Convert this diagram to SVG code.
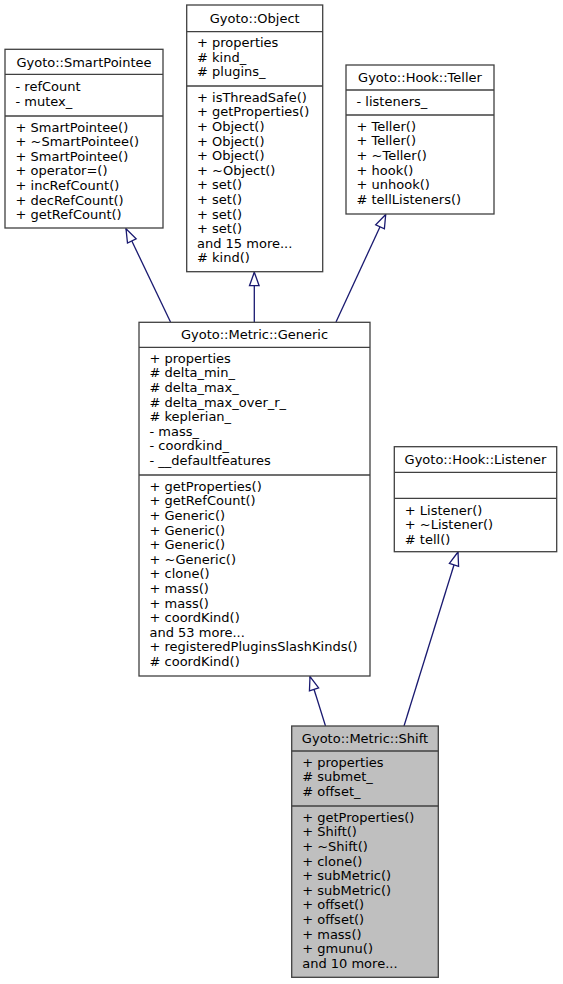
<svg xmlns="http://www.w3.org/2000/svg" width="563" height="984" viewBox="0 0 563 984">
<style>
text{font-family:"DejaVu Sans","Liberation Sans",sans-serif;font-size:13px;fill:#000}
.t{text-anchor:middle}
.box{fill:#fff;stroke:#404040;stroke-width:1.3}
.root{fill:#bfbfbf;stroke:#404040;stroke-width:1.3}
.sep{stroke:#404040;stroke-width:1.3}
.edge{fill:none;stroke:#191970;stroke-width:1.3;marker-end:url(#inh)}
</style>
<defs>
<marker id="inh" markerUnits="userSpaceOnUse" markerWidth="30" markerHeight="30" refX="0" refY="0" orient="auto" overflow="visible">
<path d="M0,0 L-13.5,-4.8 L-13.5,4.8 Z" fill="#fff" stroke="#191970" stroke-width="1.3"/>
</marker>
</defs>
<rect width="563" height="984" fill="#fff"/>
<g id="edges">
<path class="edge" d="M170.5,322 L126,228.8"/>
<path class="edge" d="M254.3,322 L254.3,272.2"/>
<path class="edge" d="M336,322 L385.7,214.5"/>
<path class="edge" d="M325.5,726 L310,676.5"/>
<path class="edge" d="M404,726 L458,552"/>
</g>
<g id="SmartPointee">
<rect class="box" x="5" y="49.3" width="158" height="178.7"/>
<line class="sep" x1="5" y1="74.3" x2="163" y2="74.3"/>
<line class="sep" x1="5" y1="116" x2="163" y2="116"/>
<text class="t" x="84" y="66.5">Gyoto::SmartPointee</text>
<text x="15.5" y="91.3">- refCount</text>
<text x="15.5" y="105.9">- mutex_</text>
<text x="15.5" y="131.5">+ SmartPointee()</text>
<text x="15.5" y="146.1">+ ~SmartPointee()</text>
<text x="15.5" y="160.7">+ SmartPointee()</text>
<text x="15.5" y="175.3">+ operator=()</text>
<text x="15.5" y="189.9">+ incRefCount()</text>
<text x="15.5" y="204.5">+ decRefCount()</text>
<text x="15.5" y="219.1">+ getRefCount()</text>
</g>
<g id="Object">
<rect class="box" x="186.7" y="5" width="136" height="266.7"/>
<line class="sep" x1="186.7" y1="31.7" x2="322.7" y2="31.7"/>
<line class="sep" x1="186.7" y1="86" x2="322.7" y2="86"/>
<text class="t" x="254.7" y="22.5">Gyoto::Object</text>
<text x="197" y="47.2">+ properties</text>
<text x="197" y="61.8">#  kind_</text>
<text x="197" y="76.4">#  plugins_</text>
<text x="197" y="101.7">+ isThreadSafe()</text>
<text x="197" y="116.3">+ getProperties()</text>
<text x="197" y="130.9">+ Object()</text>
<text x="197" y="145.5">+ Object()</text>
<text x="197" y="160.1">+ Object()</text>
<text x="197" y="174.7">+ ~Object()</text>
<text x="197" y="189.3">+ set()</text>
<text x="197" y="203.9">+ set()</text>
<text x="197" y="218.5">+ set()</text>
<text x="197" y="233.1">+ set()</text>
<text x="197" y="247.7">and 15 more...</text>
<text x="197" y="262.3">#  kind()</text>
</g>
<g id="Teller">
<rect class="box" x="346" y="65" width="148" height="149"/>
<line class="sep" x1="346" y1="90" x2="494" y2="90"/>
<line class="sep" x1="346" y1="115" x2="494" y2="115"/>
<text class="t" x="420" y="82">Gyoto::Hook::Teller</text>
<text x="356.5" y="106">- listeners_</text>
<text x="356.5" y="130.7">+ Teller()</text>
<text x="356.5" y="145.3">+ Teller()</text>
<text x="356.5" y="159.9">+ ~Teller()</text>
<text x="356.5" y="174.5">+ hook()</text>
<text x="356.5" y="189.1">+ unhook()</text>
<text x="356.5" y="203.7">#  tellListeners()</text>
</g>
<g id="Generic">
<rect class="box" x="139" y="322.3" width="231" height="353.7"/>
<line class="sep" x1="139" y1="347.3" x2="370" y2="347.3"/>
<line class="sep" x1="139" y1="475" x2="370" y2="475"/>
<text class="t" x="254.5" y="339.3">Gyoto::Metric::Generic</text>
<text x="149.5" y="362.8">+ properties</text>
<text x="149.5" y="377.4">#  delta_min_</text>
<text x="149.5" y="392">#  delta_max_</text>
<text x="149.5" y="406.6">#  delta_max_over_r_</text>
<text x="149.5" y="421.2">#  keplerian_</text>
<text x="149.5" y="435.8">- mass_</text>
<text x="149.5" y="450.4">- coordkind_</text>
<text x="149.5" y="465">- __defaultfeatures</text>
<text x="149.5" y="490.7">+ getProperties()</text>
<text x="149.5" y="505.3">+ getRefCount()</text>
<text x="149.5" y="519.9">+ Generic()</text>
<text x="149.5" y="534.5">+ Generic()</text>
<text x="149.5" y="549.1">+ Generic()</text>
<text x="149.5" y="563.7">+ ~Generic()</text>
<text x="149.5" y="578.3">+ clone()</text>
<text x="149.5" y="592.9">+ mass()</text>
<text x="149.5" y="607.5">+ mass()</text>
<text x="149.5" y="622.1">+ coordKind()</text>
<text x="149.5" y="636.7">and 53 more...</text>
<text x="149.5" y="651.3">+ registeredPluginsSlashKinds()</text>
<text x="149.5" y="665.9">#  coordKind()</text>
</g>
<g id="Listener">
<rect class="box" x="394.3" y="446.7" width="162.4" height="105"/>
<line class="sep" x1="394.3" y1="472.3" x2="556.7" y2="472.3"/>
<line class="sep" x1="394.3" y1="498.3" x2="556.7" y2="498.3"/>
<text class="t" x="475.5" y="464">Gyoto::Hook::Listener</text>
<text x="404.8" y="514.5">+ Listener()</text>
<text x="404.8" y="529.2">+ ~Listener()</text>
<text x="404.8" y="543.9">#  tell()</text>
</g>
<g id="Shift">
<rect class="root" x="291.7" y="726" width="146.6" height="251.3"/>
<line class="sep" x1="291.7" y1="751" x2="438.3" y2="751"/>
<line class="sep" x1="291.7" y1="806" x2="438.3" y2="806"/>
<text class="t" x="365" y="743">Gyoto::Metric::Shift</text>
<text x="302.2" y="766.5">+ properties</text>
<text x="302.2" y="781.1">#  submet_</text>
<text x="302.2" y="795.7">#  offset_</text>
<text x="302.2" y="821.7">+ getProperties()</text>
<text x="302.2" y="836.3">+ Shift()</text>
<text x="302.2" y="850.9">+ ~Shift()</text>
<text x="302.2" y="865.5">+ clone()</text>
<text x="302.2" y="880.1">+ subMetric()</text>
<text x="302.2" y="894.7">+ subMetric()</text>
<text x="302.2" y="909.3">+ offset()</text>
<text x="302.2" y="923.9">+ offset()</text>
<text x="302.2" y="938.5">+ mass()</text>
<text x="302.2" y="953.1">+ gmunu()</text>
<text x="302.2" y="967.7">and 10 more...</text>
</g>
</svg>
